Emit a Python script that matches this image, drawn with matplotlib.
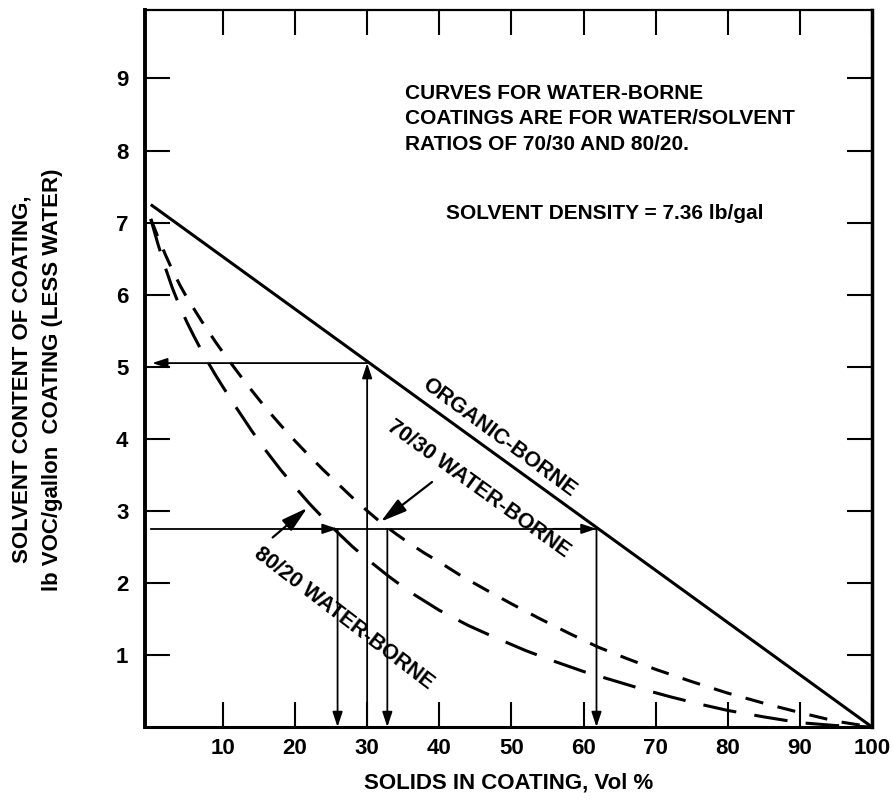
import matplotlib
matplotlib.use("Agg")
import matplotlib.pyplot as plt

plt.rcParams['font.family'] = ['Liberation Sans', 'DejaVu Sans']
plt.rcParams['font.weight'] = 'bold'

# ---- data ----
organic_x = [0, 100]
organic_y = [7.25, 0.0]

w7030_x = [0, 1, 2, 3, 4, 5, 6, 7, 8, 9, 10, 12, 14, 16, 18, 20, 22, 24, 26, 28, 30,
           32, 34, 36, 38, 40, 43, 46, 50, 54, 58, 62, 66, 70, 75, 80, 85, 90, 95, 100]
w7030_y = [7.05, 6.80, 6.56, 6.34, 6.14, 5.96, 5.80, 5.64, 5.49, 5.34, 5.20, 4.93, 4.67,
           4.42, 4.19, 3.97, 3.76, 3.56, 3.37, 3.18, 3.00, 2.83, 2.68, 2.54, 2.41, 2.29,
           2.10, 1.93, 1.71, 1.50, 1.30, 1.11, 0.95, 0.80, 0.63, 0.47, 0.33, 0.20, 0.08,
           0.0]

w8020_x = [0, 1, 2, 3, 4, 5, 6, 7, 8, 9, 10, 12, 14, 16, 18, 20, 22, 24, 26, 28, 30,
           33, 36, 40, 44, 48, 52, 56, 60, 64, 68, 72, 76, 80, 85, 90, 95, 100]
w8020_y = [7.05, 6.70, 6.38, 6.09, 5.84, 5.62, 5.42, 5.23, 5.05, 4.88, 4.72, 4.41, 4.11,
           3.83, 3.57, 3.33, 3.10, 2.89, 2.69, 2.50, 2.33, 2.09, 1.87, 1.62, 1.41, 1.23,
           1.06, 0.91, 0.77, 0.65, 0.53, 0.42, 0.32, 0.23, 0.14, 0.06, 0.02, 0.0]

x_ticks = [10, 20, 30, 40, 50, 60, 70, 80, 90, 100]
x_ticklabels = ['10', '20', '30', '40', '50', '60', '70', '80', '90', '100']
y_ticks = [1, 2, 3, 4, 5, 6, 7, 8, 9]
y_ticklabels = ['1', '2', '3', '4', '5', '6', '7', '8', '9']

# reading example 1: 30% solids -> 5 lb/gal
ex1_solids = 30
ex1_voc = 5.05
# reading example 2: 2.75 lb/gal -> solids for each coating type
ex2_voc = 2.75
ex2_solids = [25.9, 32.8, 61.8]

note_text = ("CURVES FOR WATER-BORNE\n"
             "COATINGS ARE FOR WATER/SOLVENT\n"
             "RATIOS OF 70/30 AND 80/20.")
density_text = "SOLVENT DENSITY = 7.36 lb/gal"
xlabel = "SOLIDS IN COATING, Vol %"
ylabel1 = "SOLVENT CONTENT OF COATING,"
ylabel2 = "lb VOC/gallon  COATING (LESS WATER)"

W, H = 895, 805
fig = plt.figure(figsize=(W / 100, H / 100), dpi=100)
L, R, T, B = 145, 872, 10, 727
ax = fig.add_axes([L / W, 1 - B / H, (R - L) / W, (B - T) / H])
ax.set_xlim(-0.8, 100)
ax.set_ylim(0, 9.95)

k = 'black'
ax.plot(organic_x, organic_y, color=k, lw=2.2, solid_capstyle='butt')
ax.plot(w7030_x, w7030_y, color=k, lw=2.2, dashes=(6, 4.8), dash_capstyle='butt')
ax.plot(w8020_x, w8020_y, color=k, lw=2.2, dashes=(11, 6), dash_capstyle='butt')

thin = 1.3
ref_arrow = dict(arrowstyle='-|>,head_length=0.6,head_width=0.2', color=k, lw=thin,
                 mutation_scale=15, shrinkA=0, shrinkB=0)
# example 1
ax.annotate('', xy=(ex1_solids, ex1_voc), xytext=(ex1_solids, 0), arrowprops=ref_arrow)
ax.annotate('', xy=(0.2, ex1_voc), xytext=(ex1_solids, ex1_voc), arrowprops=ref_arrow)
# example 2
ax.plot([0, ex2_solids[2]], [ex2_voc, ex2_voc], color=k, lw=thin)
ax.annotate('', xy=(ex2_solids[0], ex2_voc), xytext=(ex2_solids[0] - 6, ex2_voc),
            arrowprops=ref_arrow)
ax.annotate('', xy=(ex2_solids[2], ex2_voc), xytext=(ex2_solids[2] - 6, ex2_voc),
            arrowprops=ref_arrow)
for s in ex2_solids:
    ax.annotate('', xy=(s, 0), xytext=(s, ex2_voc), arrowprops=ref_arrow)

# pointer arrows for labels
ptr = dict(arrowstyle='-|>,head_length=0.8,head_width=0.22', color=k, lw=1.6,
           mutation_scale=20, shrinkA=0, shrinkB=0)
ax.annotate('', xy=(31.9, 2.85), xytext=(39.0, 3.40), arrowprops=ptr)
ax.annotate('', xy=(21.7, 3.04), xytext=(16.9, 2.63), arrowprops=ptr)

# rotated curve labels
lab = dict(fontsize=15.5, fontweight='bold', ha='center', va='center',
           rotation_mode='anchor')
ax.text(48.3, 4.02, 'ORGANIC-BORNE', rotation=-36.4, **lab)
ax.text(45.5, 3.31, '70/30 WATER-BORNE', rotation=-35.8, **lab)
ax.text(26.7, 1.50, '80/20 WATER-BORNE', rotation=-37.4, **lab)

# notes
ax.text(35.2, 8.93, note_text, fontsize=15, fontweight='bold', ha='left', va='top',
        linespacing=1.45)
ax.text(63.0, 7.13, density_text, fontsize=15, fontweight='bold', ha='center',
        va='center')

# axes styling
ax.spines['left'].set_linewidth(2.8)
ax.spines['right'].set_linewidth(2.5)
ax.spines['bottom'].set_linewidth(2.2)
ax.spines['top'].set_linewidth(1.6)

ax.set_xticks(x_ticks)
ax.set_xticklabels(x_ticklabels)
ax.set_yticks(y_ticks)
ax.set_yticklabels(y_ticklabels)
ax.tick_params(axis='x', direction='in', length=18, width=1.5, top=True, bottom=True,
               labelsize=16, pad=8)
ax.tick_params(axis='y', direction='in', length=18, width=1.5, left=True, right=True,
               labelsize=16, pad=12)
for t in ax.get_xticklabels() + ax.get_yticklabels():
    t.set_fontweight('bold')

fig.text((L + R) / 2 / W, 1 - 783 / H, xlabel, fontsize=16, fontweight='bold',
         ha='center', va='center')
fig.text(22 / W, 1 - 379 / H, ylabel1, fontsize=16, fontweight='bold', rotation=90,
         ha='center', va='center')
fig.text(53 / W, 1 - 380 / H, ylabel2, fontsize=16, fontweight='bold', rotation=90,
         ha='center', va='center')

fig.savefig('out.png', dpi=100)
